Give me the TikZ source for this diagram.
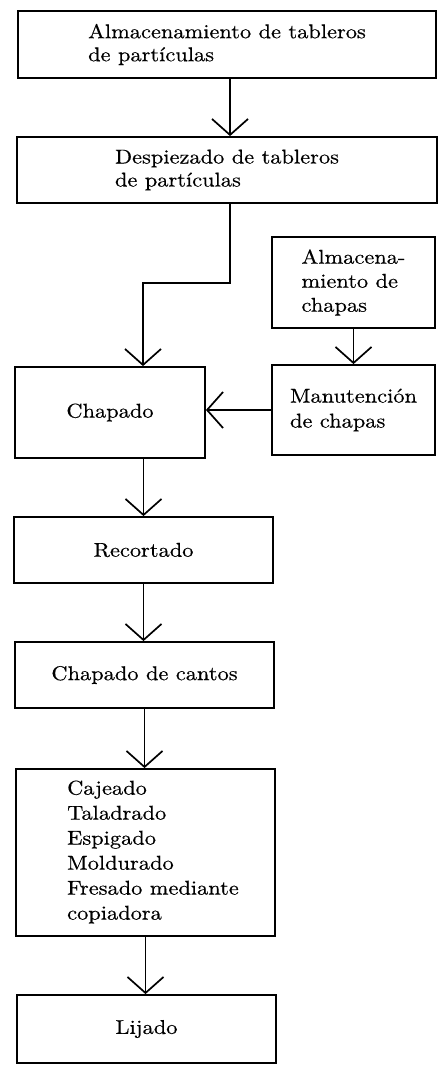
\documentclass[tikz,border=0pt]{standalone}
\usepackage{fontspec}
\setmainfont{lmroman10-regular.otf}[FakeStretch=1.12,FakeBold=0.4]
\usetikzlibrary{arrows.meta}
\begin{document}
\begin{tikzpicture}[x=1pt,y=-1pt,
  box/.style={draw, line width=1.8pt, inner sep=0pt, align=left,
    font=\fontsize{20}{23}\selectfont},
  txt/.style={inner sep=0pt, align=left, font=\fontsize{20}{25}\selectfont},
  arr/.style={line width=1.7pt, -{Straight Barb[length=16pt,width=36pt,line width=1.7pt]}}]
\useasboundingbox (0,0) rectangle (439,1066);
\fill[white] (0,0) rectangle (439,1066);
% boxes
\node[box, minimum width=418pt, minimum height=67pt] (b1) at (227,44.5)
  {Almacenamiento de tableros\\de partículas};
\node[box, minimum width=420pt, minimum height=66pt] (b2) at (227,170)
  {Despiezado de tableros\\de partículas};
\node[box, minimum width=163pt, minimum height=91pt,
  font=\fontsize{20}{24}\selectfont] (almch) at (353.5,282.5)
  {Almacena-\\miento de\\chapas};
\node[box, minimum width=163pt, minimum height=90pt,
  font=\fontsize{20}{25}\selectfont] (manut) at (353.5,410)
  {Manutención\\de chapas};
\node[box, minimum width=190pt, minimum height=91pt] (chap) at (110,412.5)
  {Chapado};
\node[box, minimum width=259pt, minimum height=66pt] (recor) at (143.5,550)
  {Recortado};
\node[box, minimum width=259pt, minimum height=66pt] (canto) at (144.5,675)
  {Chapado de cantos};
\node[box, minimum width=259pt, minimum height=167pt] (caje) at (145.5,852.5) {};
\node[txt, anchor=west] (cajet) at (67,852) {Cajeado\\Taladrado\\Espigado\\Moldurado\\Fresado mediante\\copiadora};
\node[box, minimum width=259pt, minimum height=68pt] (lija) at (146.5,1029)
  {Lijado};
% connectors
\coordinate (c1) at (230,0);
\coordinate (bend) at (230,283);
\coordinate (k) at (143,283);
\draw[arr] (b1.south -| c1) -- (b2.north -| c1);
\draw[arr] (b2.south -| bend) -- (bend) -- (k) -- (chap.north -| k);
\draw[arr] (almch.south) -- (manut.north);
\draw[arr] (manut.west) -- (chap.east |- manut.west);
\draw[arr] (chap.south -| recor.north) -- (recor.north);
\draw[arr] (recor.south) -- (canto.north -| recor.south);
\draw[arr] (canto.south) -- (caje.north -| canto.south);
\draw[arr] (caje.south) -- (lija.north -| caje.south);
\end{tikzpicture}
\end{document}
